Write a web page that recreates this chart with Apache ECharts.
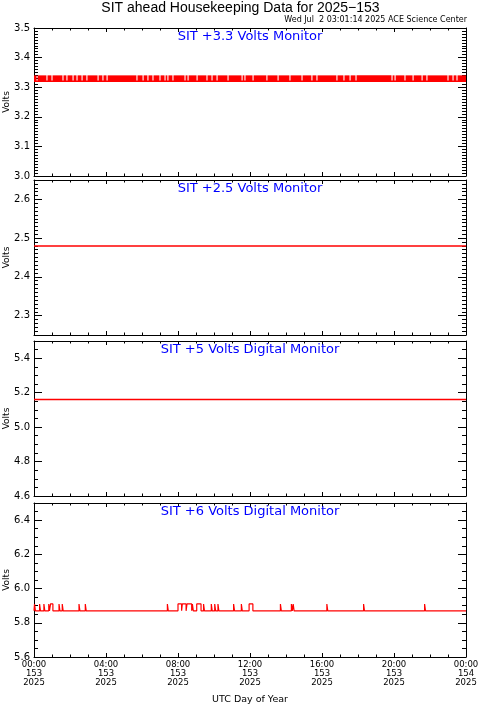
<!DOCTYPE html>
<html><head><meta charset="utf-8">
<script src="https://cdn.jsdelivr.net/npm/echarts@6/dist/echarts.min.js"></script>
<style>html,body{margin:0;padding:0;background:#fff}#c{width:481px;height:706px}</style>
</head><body><div id="c"></div><script>
// ---------- text ----------
const mainTitle = 'SIT ahead Housekeeping Data for 2025\u2212153';
const stampText = 'Wed Jul  2 03:01:14 2025 ACE Science Center';
const panelTitles = ['SIT +3.3 Volts Monitor', 'SIT +2.5 Volts Monitor', 'SIT +5 Volts Digital Monitor', 'SIT +6 Volts Digital Monitor'];
const yName = 'Volts';
const xName = 'UTC Day of Year';

// ---------- x axis (hours of day 153) ----------
const xTickHours = [0, 4, 8, 12, 16, 20, 24];
const xTickLabels = ['00:00\n153\n2025', '04:00\n153\n2025', '08:00\n153\n2025', '12:00\n153\n2025', '16:00\n153\n2025', '20:00\n153\n2025', '00:00\n154\n2025'];

// ---------- y axes ----------
const yRanges = [[3.0, 3.5], [2.25, 2.65], [4.6, 5.5], [5.6, 6.5]];
const yMajorStep = [0.1, 0.1, 0.2, 0.2];
const yMinorStep = [0.01, 0.01, 0.05, 0.05];

// ---------- data ----------
// Panel 1: +3.3 V monitor toggles between two levels; gaps = hours where it stays at the low level
const p1Low = 3.32, p1High = 3.34;
const p1GapHours = [0.17, 0.72, 1.0, 1.61, 1.83, 2.17, 2.39, 2.67, 2.94, 3.56, 3.83, 4.06, 5.72, 6.06, 6.33, 6.61, 7.0, 7.28, 7.44, 7.72, 8.39, 8.56, 9.06, 9.61, 9.89, 10.17, 10.78, 11.56, 11.72, 12.17, 12.94, 13.56, 14.22, 14.89, 15.44, 15.72, 16.83, 17.22, 17.56, 17.89, 19.89, 20.06, 20.61, 21.06, 21.56, 21.83, 23.0, 23.28, 23.5];
const sampleHours = 0.06;
// Panel 2 and 3: constant readings
const p2Hours = [0, 24], p2Values = [2.48, 2.48];
const p3Hours = [0, 24], p3Values = [5.16, 5.16];
// Panel 4: baseline with brief excursions to the higher level
const p4Base = 5.87, p4High = 5.91;
const p4Spikes = [[0.03, 0.08], [0.31, 0.36], [0.55, 0.6], [0.82, 0.86], [0.92, 1.05], [1.39, 1.44], [1.57, 1.62], [2.5, 2.55], [2.85, 2.9], [7.41, 7.46], [8.0, 8.2], [8.24, 8.45], [8.5, 8.76], [8.8, 8.85], [9.04, 9.28], [9.42, 9.47], [9.85, 9.9], [10.04, 10.09], [10.22, 10.27], [11.09, 11.14], [11.52, 11.57], [11.95, 12.16], [13.69, 13.74], [14.3, 14.35], [14.4, 14.45], [16.27, 16.32], [18.31, 18.36], [21.7, 21.75]];

// ---------- build ----------
const grids = [
  {top: 28, height: 148},
  {top: 180, height: 155},
  {top: 341, height: 155},
  {top: 503, height: 154}
];
const RED = '#ff0000', BLUE = '#0000ff', BLACK = '#000000';
const FONT = 'DejaVu Sans';

function isMultiple(v, step) {
  const q = v / step;
  return Math.abs(q - Math.round(q)) < 1e-6;
}

const xAxes = [], yAxes = [], series = [], titles = [];
titles.push({text: mainTitle, left: 'center', top: 1, padding: 0,
  textStyle: {fontFamily: 'Liberation Sans', fontSize: 14, fontWeight: 'normal', color: BLACK}});
titles.push({text: stampText, right: 14, top: 16, padding: 0,
  textStyle: {fontFamily: FONT, fontSize: 8, fontWeight: 'normal', color: BLACK}});

grids.forEach((g, i) => {
  titles.push({text: panelTitles[i], left: 250, textAlign: 'center', top: g.top + 2, padding: 0,
    textStyle: {fontFamily: FONT, fontSize: 13, fontWeight: 'normal', color: BLUE}});
  ['bottom', 'top'].forEach(pos => {
    const isLabel = (pos === 'bottom' && i === grids.length - 1);
    xAxes.push({
      type: 'value', gridIndex: i, position: pos, min: 0, max: 24, interval: 4,
      axisLine: {show: true, onZero: false, lineStyle: {color: BLACK, width: 1}},
      axisTick: {show: true, inside: true, length: 4, lineStyle: {color: BLACK}},
      minorTick: {show: true, splitNumber: 4, length: 2.5, lineStyle: {color: BLACK}},
      axisLabel: {show: isLabel, margin: 3, fontFamily: FONT, fontSize: 8.5, lineHeight: 9, color: BLACK,
        formatter: v => xTickLabels[xTickHours.indexOf(v)] || ''},
      splitLine: {show: false}, minorSplitLine: {show: false},
      name: isLabel ? xName : '', nameLocation: 'middle', nameGap: 38, nameMoveOverlap: false,
      nameTextStyle: {fontFamily: FONT, fontSize: 9.5, color: BLACK}
    });
  });
  const r = yRanges[i];
  const step = yMajorStep[i];
  const minOnStep = isMultiple(r[0], step);
  ['left', 'right'].forEach(pos => {
    const major = {
      type: 'value', gridIndex: i, position: pos, min: r[0], max: r[1],
      axisLine: {show: true, onZero: false, lineStyle: {color: BLACK, width: 1}},
      axisTick: {show: true, inside: true, length: 8, lineStyle: {color: BLACK}},
      axisLabel: {show: pos === 'left', margin: 4, fontFamily: FONT, fontSize: 10, color: BLACK,
        showMinLabel: isMultiple(r[0], step), showMaxLabel: isMultiple(r[1], step),
        formatter: v => isMultiple(v, step) ? v.toFixed(1) : ''},
      splitLine: {show: false},
      name: pos === 'left' ? yName : '', nameLocation: 'middle', nameGap: 23, nameMoveOverlap: false,
      nameTextStyle: {fontFamily: FONT, fontSize: 9, color: BLACK}
    };
    if (minOnStep) major.interval = step; else major.splitNumber = Math.round((r[1] - r[0]) / step);
    yAxes.push(major);
    yAxes.push({
      type: 'value', gridIndex: i, position: pos, min: r[0], max: r[1], interval: yMinorStep[i],
      axisLine: {show: false, onZero: false},
      axisTick: {show: true, inside: true, length: 4, lineStyle: {color: BLACK}},
      axisLabel: {show: false},
      splitLine: {show: false}
    });
  });
});

// panel 1 band segments between gaps
const segs = [];
let s0 = 0;
p1GapHours.forEach(gh => { segs.push([s0, gh - sampleHours / 2]); s0 = gh + sampleHours / 2; });
segs.push([s0, 24]);

const lineStyle = {color: RED, width: 1.5};
series.push({
  type: 'line', xAxisIndex: 0, yAxisIndex: 0, symbol: 'none', animation: false, silent: true,
  lineStyle: lineStyle, data: [[0, p1Low], [24, p1Low]],
  markArea: {silent: true, animation: false, itemStyle: {color: RED, opacity: 1},
    data: segs.map(s => [{coord: [s[0], p1High]}, {coord: [s[1], p1Low]}])}
});
series.push({
  type: 'line', xAxisIndex: 2, yAxisIndex: 4, symbol: 'none', animation: false, silent: true,
  lineStyle: lineStyle, data: p2Hours.map((h, k) => [h, p2Values[k]])
});
series.push({
  type: 'line', xAxisIndex: 4, yAxisIndex: 8, symbol: 'none', animation: false, silent: true,
  lineStyle: lineStyle, data: p3Hours.map((h, k) => [h, p3Values[k]])
});
const p4Data = [[0, p4Base]];
p4Spikes.forEach(([a, b]) => { p4Data.push([a, p4Base], [a, p4High], [b, p4High], [b, p4Base]); });
p4Data.push([24, p4Base]);
series.push({
  type: 'line', xAxisIndex: 6, yAxisIndex: 12, symbol: 'none', animation: false, silent: true,
  lineStyle: {color: RED, width: 1.2}, data: p4Data
});

const chart = echarts.init(document.getElementById('c'), null, {renderer: 'canvas'});
chart.setOption({
  backgroundColor: '#ffffff',
  animation: false,
  title: titles,
  grid: grids.map(g => ({left: 34, width: 432, top: g.top, height: g.height, containLabel: false, outerBoundsMode: 'none'})),
  xAxis: xAxes,
  yAxis: yAxes,
  series: series
});
</script></body></html>
